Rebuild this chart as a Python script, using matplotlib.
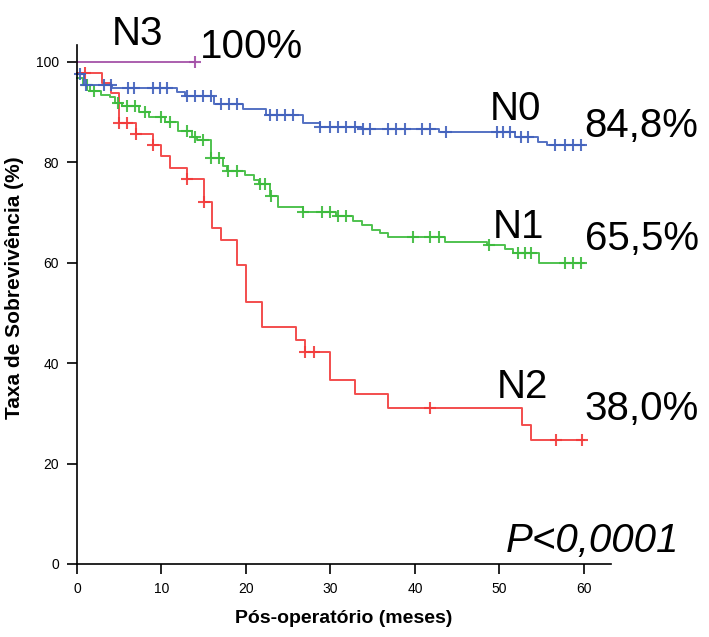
import numpy as np
import matplotlib.pyplot as plt

# Kaplan-Meier curves by nodal stage: step times (months), survival after each step (%),
# censoring times and end of follow-up
n0_times = [0, 0.8, 4.2, 11.8, 12.8, 16.2, 19.7, 22.4, 26.8, 28.8, 33.7, 42.8, 51.8, 54.6, 55.6]
n0_surv = [97.5, 95.5, 94.8, 94.0, 93.3, 91.6, 90.7, 89.5, 87.9, 87.1, 86.6, 86.1, 85.1, 84.1, 83.5]
n0_cens = [0.3, 1.1, 3.2, 4.0, 6.0, 6.8, 9.0, 9.8, 10.6, 13.0, 14.0, 14.95, 15.9, 17.1, 18.0,
           18.9, 22.8, 23.7, 24.6, 25.6, 28.8, 29.9, 30.9, 31.9, 32.9, 33.9, 34.7, 36.8, 37.8,
           38.8, 40.8, 41.8, 43.7, 49.7, 50.4, 51.2, 52.6, 53.4, 56.6, 57.8, 58.7, 59.7]
n0_end = 60

n1_times = [0, 0.7, 1.5, 2.9, 3.9, 4.5, 5.3, 7.3, 8.5, 10.4, 12.0, 13.6, 14.2, 15.9, 17.3, 17.8,
            19.9, 20.9, 21.5, 22.8, 23.8, 26.8, 30.7, 32.7, 33.7, 34.9, 35.9, 36.8, 43.6,
            48.5, 50.7, 51.6, 54.7]
n1_surv = [96.7, 95.4, 94.2, 93.5, 93.0, 91.9, 91.2, 90.0, 89.0, 88.0, 86.3, 85.1, 84.5, 80.8,
           79.3, 78.3, 77.4, 76.5, 75.6, 73.2, 71.2, 70.2, 69.3, 68.4, 67.5, 66.5, 65.9, 65.1,
           64.2, 63.5, 62.7, 62.0, 60.0]
n1_cens = [1.15, 2.0, 4.9, 5.9, 6.9, 8.0, 10.0, 11.0, 13.0, 14.0, 14.9, 15.9, 16.8, 17.9, 18.9,
           21.7, 22.3, 23.0, 26.8, 29.0, 29.9, 30.9, 31.9, 39.8, 41.8, 42.8, 48.8, 52.2, 53.0,
           53.8, 57.8, 58.7, 59.7]
n1_end = 60

n2_times = [0, 3.0, 4.0, 5.0, 7.0, 9.0, 10.0, 11.0, 13.0, 15.0, 16.0, 17.0, 18.9, 20.0, 21.9,
            25.9, 27.0, 29.9, 32.9, 36.8, 52.7, 53.7]
n2_surv = [97.8, 95.9, 93.9, 87.8, 85.7, 83.4, 81.2, 78.9, 76.6, 72.1, 67.0, 64.6, 59.6, 52.1,
           47.2, 44.6, 42.2, 36.7, 33.8, 31.0, 27.7, 24.7]
n2_cens = [0.95, 5.0, 5.9, 7.0, 9.0, 13.0, 15.0, 27.0, 28.0, 41.8, 56.7, 59.8]
n2_end = 60

n3_times = [0]
n3_surv = [100.0]
n3_cens = [14.0]
n3_end = 14

groups = [
    ("N3", n3_times, n3_surv, n3_cens, n3_end, "#a24ea6"),
    ("N2", n2_times, n2_surv, n2_cens, n2_end, "#f23a3a"),
    ("N1", n1_times, n1_surv, n1_cens, n1_end, "#3cbb3c"),
    ("N0", n0_times, n0_surv, n0_cens, n0_end, "#4262bd"),
]

# annotations: (text, x, baseline y) in data units
stage_labels = [("N3", 4.1, 103.4), ("N0", 48.9, 88.4), ("N1", 49.2, 64.9), ("N2", 49.7, 33.1)]
pct_labels = [("100%", 14.6, 100.8), ("84,8%", 60.1, 85.1), ("65,5%", 60.1, 62.5),
              ("38,0%", 60.1, 28.7)]

plt.rcParams['font.family'] = ['Liberation Sans', 'DejaVu Sans']

fig = plt.figure(figsize=(7.09, 6.37), dpi=100)
ax = fig.add_axes([0.1086, 0.1146, 0.753, 0.815])

for name, t, s, cens, t_end, color in groups:
    t = np.asarray(t, dtype=float)
    s = np.asarray(s, dtype=float)
    xs = np.append(t, t_end)
    ys = np.append(s, s[-1])
    ax.step(xs, ys, where='post', color=color, lw=1.4, alpha=0.9, clip_on=False)
    c = np.asarray(cens, dtype=float)
    idx = np.searchsorted(t, c, side='right') - 1
    ax.plot(c, s[idx], '+', color=color, ms=8, mew=1.5, alpha=0.9, clip_on=False)

for text, x, y in stage_labels:
    ax.text(x, y, text, fontsize=29, ha='left', va='baseline', clip_on=False)
for text, x, y in pct_labels:
    ax.text(x, y, text, fontsize=29, ha='left', va='baseline', clip_on=False)
ax.text(50.7, 2.4, "P<0,0001", fontsize=29, style='italic', ha='left', va='baseline')

ax.set_xlim(0, 63.2)
ax.set_ylim(0, 103.4)
ax.set_xticks(range(0, 61, 10))
ax.set_yticks(range(0, 101, 20))
ax.spines['top'].set_visible(False)
ax.spines['right'].set_visible(False)
ax.spines['left'].set_linewidth(1.2)
ax.spines['bottom'].set_linewidth(1.2)
ax.tick_params(direction='out', length=7, width=1.2, labelsize=10, pad=6)

ax.set_xlabel("Pós-operatório (meses)", fontsize=14, fontweight='bold', labelpad=10)
fig.text(15 / 709, 1 - 288 / 637, "Taxa de Sobrevivência (%)", fontsize=15,
         fontweight='bold', rotation=90, ha='center', va='center')

fig.savefig("out.png", dpi=100)
